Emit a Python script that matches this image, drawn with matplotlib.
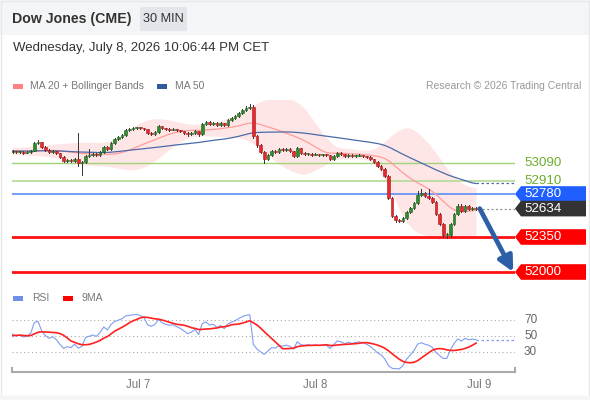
import numpy as np
import pandas as pd
import matplotlib
matplotlib.use("Agg")
import matplotlib.pyplot as plt
from matplotlib.patches import Rectangle, Polygon, FancyBboxPatch

plt.rcParams['font.family'] = ['Liberation Sans', 'DejaVu Sans']

# ---------------- data ----------------
title = "Dow Jones (CME)"
timeframe = "30 MIN"
timestamp = "Wednesday, July 8, 2026 10:06:44 PM CET"

history_closes = [53180, 53200, 53170, 53150, 53190, 53220, 53240, 53210, 53230, 53260,
                  53240, 53200, 53180, 53210, 53230, 53250, 53220, 53190, 53170, 53160,
                  53190, 53210, 53240, 53260, 53230, 53210, 53200, 53180, 53160, 53150,
                  53170, 53200, 53230, 53250, 53270, 53240, 53220, 53200, 53210, 53230,
                  53220, 53200, 53180, 53190, 53210, 53220, 53200, 53190, 53205, 53200]

closes = [53210, 53200, 53205, 53195, 53200, 53215, 53290, 53300, 53250, 53220,
          53200, 53210, 53190, 53150, 53110, 53120, 53110, 53130, 53090, 53100,
          53160, 53170, 53180, 53170, 53200, 53250, 53230, 53290, 53330, 53350,
          53370, 53420, 53430, 53440, 53445, 53440, 53430, 53390, 53380, 53400,
          53460, 53440, 53430, 53425, 53430, 53420, 53410, 53395, 53380, 53390,
          53410, 53380, 53480, 53500, 53480, 53490, 53470, 53490, 53470, 53520,
          53540, 53560, 53590, 53620, 53640, 53650, 53360, 53270, 53200, 53130,
          53170, 53210, 53200, 53230, 53220, 53230, 53210, 53160, 53240, 53190,
          53180, 53185, 53175, 53180, 53170, 53175, 53170, 53130, 53160, 53190,
          53180, 53160, 53170, 53160, 53165, 53170, 53160, 53150, 53130, 53100,
          53060, 53030, 52960, 52740, 52560, 52520, 52510, 52540, 52600, 52640,
          52690, 52770, 52790, 52760, 52740, 52700, 52580, 52480, 52370, 52370,
          52480, 52580, 52660, 52610, 52660, 52630, 52640, 52634]

highs = [53220, 53215, 53215, 53210, 53210, 53225, 53300, 53320, 53305, 53260,
         53230, 53225, 53215, 53195, 53160, 53130, 53130, 53140, 53390, 53115,
         53170, 53230, 53195, 53190, 53210, 53260, 53260, 53300, 53340, 53365,
         53380, 53430, 53445, 53450, 53455, 53455, 53445, 53435, 53400, 53410,
         53470, 53465, 53445, 53440, 53440, 53435, 53425, 53415, 53400, 53400,
         53420, 53415, 53490, 53515, 53510, 53500, 53500, 53500, 53495, 53530,
         53550, 53570, 53600, 53630, 53660, 53680, 53670, 53370, 53280, 53210,
         53180, 53220, 53220, 53240, 53240, 53240, 53240, 53215, 53250, 53245,
         53200, 53195, 53190, 53190, 53185, 53185, 53180, 53175, 53170, 53200,
         53200, 53185, 53180, 53180, 53175, 53180, 53175, 53165, 53160, 53135,
         53110, 53070, 53040, 52970, 52750, 52570, 52535, 52550, 52610, 52650,
         52700, 52810, 52830, 52800, 52830, 52750, 52710, 52590, 52490, 52390,
         52490, 52590, 52680, 52680, 52670, 52670, 52650, 52650]

lows = [53190, 53190, 53195, 53185, 53190, 53195, 53210, 53280, 53240, 53210,
        53190, 53195, 53180, 53140, 53100, 53105, 53100, 53105, 53060, 52970,
        53090, 53150, 53160, 53160, 53165, 53190, 53220, 53225, 53280, 53320,
        53340, 53360, 53415, 53425, 53430, 53430, 53420, 53380, 53370, 53375,
        53395, 53430, 53420, 53415, 53420, 53410, 53400, 53385, 53365, 53370,
        53380, 53360, 53375, 53470, 53470, 53470, 53460, 53465, 53460, 53465,
        53510, 53530, 53550, 53580, 53610, 53630, 53340, 53250, 53190, 53090,
        53120, 53160, 53190, 53195, 53210, 53210, 53200, 53150, 53150, 53180,
        53170, 53170, 53165, 53170, 53160, 53165, 53160, 53120, 53125, 53150,
        53170, 53150, 53155, 53150, 53155, 53160, 53150, 53140, 53120, 53090,
        53050, 53020, 52950, 52730, 52550, 52505, 52500, 52500, 52530, 52590,
        52630, 52680, 52760, 52750, 52730, 52690, 52570, 52470, 52350, 52340,
        52350, 52470, 52570, 52600, 52600, 52620, 52625, 52625]

first_open = 53200

res_levels = [53090, 52910]
pivot_level = 52780
sup_levels = [52350, 52000]
target_level = 52000

date_labels = ["Jul 7", "Jul 8", "Jul 9"]
date_positions = [34.5, 83.0, 127.9]   # bar-index positions of day labels

rsi_levels = [70, 50, 30]

# ---------------- computations ----------------
all_c = pd.Series(history_closes + closes, dtype=float)
nh = len(history_closes)
n = len(closes)
xs = np.arange(n)
opens = [first_open] + closes[:-1]

ma20 = all_c.rolling(20).mean().values[nh:]
sd20 = all_c.rolling(20).std(ddof=0).values[nh:]
ma50 = all_c.rolling(50, min_periods=30).mean().values[nh:]
bb_up = pd.Series(ma20 + 2 * sd20).rolling(9, center=True, min_periods=1).mean().values
bb_lo = pd.Series(ma20 - 2 * sd20).rolling(9, center=True, min_periods=1).mean().values
ma20_s = pd.Series(ma20).rolling(3, center=True, min_periods=1).mean().values
ma50_s = pd.Series(ma50).rolling(3, center=True, min_periods=1).mean().values

d = all_c.diff()
gain = d.clip(lower=0).ewm(alpha=1/14, adjust=False).mean()
loss = (-d.clip(upper=0)).ewm(alpha=1/14, adjust=False).mean()
rsi_all = 100 - 100 / (1 + gain / loss)
rsi9_all = rsi_all.rolling(9).mean()
rsi = rsi_all.values[nh:]
rsi9 = rsi9_all.values[nh:]

# ---------------- figure ----------------
W, H = 590, 400
fig = plt.figure(figsize=(W / 100, H / 100), dpi=100)
fig.patch.set_facecolor("white")

def fx(px):
    return px / W

def fy(py):
    return 1 - py / H

# header band
fig.patches.append(Rectangle((0, fy(35)), 1, fy(0) - fy(35), transform=fig.transFigure,
                             facecolor="#f4f5f6", edgecolor="none", zorder=0))
# outer border
fig.patches.append(Rectangle((fx(0.5), fy(396)), fx(588), fy(0.5) - fy(396), transform=fig.transFigure,
                             facecolor="none", edgecolor="#e6e8ea", lw=1, zorder=0))
fig.patches.append(Rectangle((0, 0), 1, fy(396), transform=fig.transFigure,
                             facecolor="#f4f5f6", edgecolor="none", zorder=0))

fig.text(fx(12), fy(19), title, fontsize=10.2, fontweight="bold", color="#333333", va="center", ha="left")
fig.patches.append(FancyBboxPatch((fx(140), fy(31)), fx(47), fy(7) - fy(31), transform=fig.transFigure,
                                  boxstyle="round,pad=0,rounding_size=0.004",
                                  facecolor="#e2e5e9", edgecolor="none", zorder=1))
fig.text(fx(163.5), fy(19), timeframe, fontsize=9.2, color="#333333", va="center", ha="center", zorder=6)
fig.text(fx(13), fy(48), timestamp, fontsize=9.5, color="#333333", va="center", ha="left")

# legend
fig.patches.append(Rectangle((fx(13), fy(88.5)), fx(10), fy(84) - fy(88.5), transform=fig.transFigure,
                             facecolor="#ff8080", edgecolor="none"))
fig.text(fx(30), fy(86), "MA 20 + Bollinger Bands", fontsize=7.5, color="#777777", va="center")
fig.patches.append(Rectangle((fx(157), fy(88.5)), fx(10), fy(84) - fy(88.5), transform=fig.transFigure,
                             facecolor="#2f5b9a", edgecolor="none"))
fig.text(fx(175), fy(86), "MA 50", fontsize=7.5, color="#777777", va="center")
fig.text(fx(581), fy(86), "Research \u00a9 2026 Trading Central", fontsize=7.5, color="#999999",
         va="center", ha="right")

# ---------------- main panel ----------------
left_px, right_px = 12, 515
bar_px = 3.65
x0 = 12.5
xl = ((left_px - x0) / bar_px, (right_px - x0) / bar_px)

ax = fig.add_axes([fx(left_px), fy(282), fx(right_px - left_px), fy(100) - fy(282)])
ax.set_xlim(*xl)
ax.set_ylim(51900, 53720)
ax.axis("off")

ax.fill_between(xs, bb_lo, bb_up, color="#ffdede", alpha=0.75, lw=0, zorder=1)
ax.plot(xs, ma20_s, color="#ff9b9b", lw=0.9, zorder=2)
ax.plot(xs, ma50_s, color="#4a6aa8", lw=0.9, zorder=2)
ax.plot([xs[-1], xl[1]], [ma50_s[-1], ma50_s[-1]], color="#4a6aa8", lw=0.9, ls=(0, (2, 2)), zorder=2)

for lvl, col, lw in [(res_levels[0], "#9fd27a", 1.0), (res_levels[1], "#b9dd9c", 1.3)]:
    ax.axhline(lvl, color=col, lw=lw, zorder=1.5)
ax.axhline(pivot_level, color="#5b8cf5", lw=1.2, zorder=1.5)
for lvl in sup_levels:
    ax.axhline(lvl, color="#ff1010", lw=2.0, zorder=1.5)

# candles
for i in range(n):
    o, c, h, l = opens[i], closes[i], highs[i], lows[i]
    up = c >= o
    fc = "#2e8b2e" if up else "#e8282a"
    ec = "#1c5a1c" if up else "#a01818"
    ax.plot([i, i], [l, h], color="#333333", lw=0.7, zorder=3)
    bot = min(o, c)
    ht = max(abs(c - o), 6)
    ax.add_patch(Rectangle((i - 0.36, bot), 0.72, ht, facecolor=fc, edgecolor=ec, lw=0.4, zorder=4))

# last price dotted
ax.plot([xs[-1] + 0.5, xl[1]], [closes[-1], closes[-1]], color="#888888", lw=0.9, ls=(0, (1.5, 2)), zorder=2)

# arrow to target
ax.annotate("", xy=(xl[1] - 0.5, target_level), xytext=(xs[-1] + 1.0, closes[-1]),
            arrowprops=dict(arrowstyle="-|>,head_length=0.9,head_width=0.45", color="#2d5fa6", lw=3.4,
                            shrinkA=0, shrinkB=0), zorder=6)

fig.canvas.draw()

# right-side labels
def tag(level, text, face, txtcol="white"):
    ycf = ax.transData.transform((0, level))[1] / fig.bbox.height
    hh = 7.8 / H
    xa, xb, xc = fx(515), fx(521), fx(586)
    poly = Polygon([(xa, ycf), (xb, ycf + hh), (xc, ycf + hh), (xc, ycf - hh), (xb, ycf - hh)],
                   closed=True, transform=fig.transFigure, facecolor=face, edgecolor="none", zorder=5)
    fig.patches.append(poly)
    fig.text(fx(524), ycf, text, fontsize=9.6, color=txtcol, va="center", ha="left", zorder=7)

for lvl in res_levels:
    yc = ax.transData.transform((0, lvl))[1] / fig.bbox.height
    fig.text(fx(524), yc, str(lvl), fontsize=9.6, color="#6cad2c", va="center", ha="left")
tag(pivot_level, str(pivot_level), "#1f5fff")
tag(closes[-1], str(closes[-1]), "#333333")
for lvl in sup_levels:
    tag(lvl, str(lvl), "#ff0000")

# ---------------- RSI panel ----------------
fig.patches.append(Rectangle((fx(13), fy(300.5)), fx(10), fy(296) - fy(300.5), transform=fig.transFigure,
                             facecolor="#6f8fe8", edgecolor="none"))
fig.text(fx(32), fy(298), "RSI", fontsize=7.5, color="#777777", va="center")
fig.patches.append(Rectangle((fx(63), fy(300.5)), fx(10), fy(296) - fy(300.5), transform=fig.transFigure,
                             facecolor="#ff0000", edgecolor="none"))
fig.text(fx(82), fy(298), "9MA", fontsize=7.5, color="#777777", va="center")

ax2 = fig.add_axes([fx(left_px), fy(372), fx(right_px - left_px), fy(305) - fy(372)])
ax2.set_xlim(*xl)
ax2.set_ylim(5, 88.75)
for s in ["top", "right", "left"]:
    ax2.spines[s].set_visible(False)
ax2.spines["bottom"].set_color("#aaaaaa")
ax2.spines["bottom"].set_linewidth(1.5)
ax2.set_yticks([])
ax2.set_xticks(date_positions)
ax2.set_xticklabels(date_labels, fontsize=8.3, color="#777777")
ax2.tick_params(axis="x", length=0, pad=5)
ax2.patch.set_alpha(0)
for r in rsi_levels:
    ax2.axhline(r, color="#aaaaaa", lw=0.8, ls=(0, (1, 2.5)), zorder=1)
    yc = ax2.transData.transform((0, r))[1] / fig.bbox.height
    fig.text(fx(524), yc, str(r), fontsize=8.5, color="#666666", va="center", ha="left")
# end brackets
for xe in xl:
    ax2.plot([xe, xe], [5, 10], color="#aaaaaa", lw=1.5, clip_on=False, zorder=3)

ax2.plot(xs, rsi, color="#7f9cf0", lw=0.8, zorder=2)
ax2.plot(xs, rsi9, color="#ff2020", lw=1.2, zorder=3)
ax2.plot([xs[-1], xl[1]], [rsi[-1], rsi[-1]], color="#7f9cf0", lw=0.9, ls=(0, (2, 2)), zorder=2)

fig.savefig("out.png", dpi=100, facecolor=fig.get_facecolor())
